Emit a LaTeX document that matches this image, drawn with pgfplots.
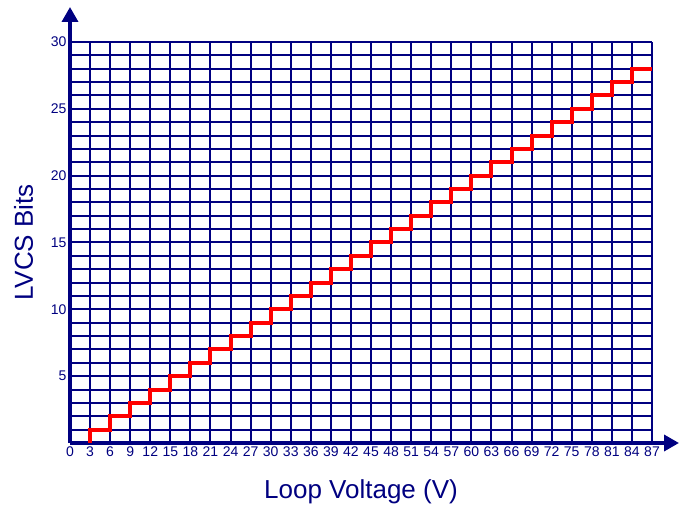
\documentclass[border=0pt]{standalone}
\usepackage{pgfplots}
\pgfplotsset{compat=1.18}
\usetikzlibrary{arrows.meta}
\usepackage{fontspec}
\setmainfont{Liberation Sans}
\definecolor{navy}{RGB}{0,0,128}
\definecolor{lred}{RGB}{255,0,0}
\begin{document}
\begin{tikzpicture}
\useasboundingbox (-70pt,-62pt) rectangle (609pt,443pt);
\begin{axis}[
  scale only axis, width=582pt, height=401pt,
  xmin=0, xmax=87, ymin=0, ymax=30,
  axis lines=left,
  x axis line style={navy, line width=3.5pt, -{Triangle[width=16pt,length=15pt]}, shorten >=-27pt},
  y axis line style={navy, line width=3.5pt, -{Triangle[width=16pt,length=15pt]}, shorten >=-35pt},
  xtick={0,3,...,87},
  ytick={1,2,...,30},
  yticklabels={,,,,5,,,,,10,,,,,15,,,,,20,,,,,25,,,,,30},
  major tick length=0pt,
  xmajorgrids, ymajorgrids,
  major grid style={navy, line width=2pt},
  /pgf/number format/assume math mode=true,
  tick label style={font=\fontsize{14}{14}\selectfont, text=navy},
  xlabel={Loop Voltage (V)},
  ylabel={LVCS Bits},
  xlabel style={font=\fontsize{26}{26}\selectfont, text=navy, at={(axis description cs:0.5,0)}, anchor=base, yshift=-55pt},
  ylabel style={font=\fontsize{26}{26}\selectfont, text=navy, at={(axis description cs:0,0.5)}, anchor=base, yshift=37pt},
]
\addplot[const plot, lred, line width=4pt] coordinates {
(3,0) (3,1) (6,2) (9,3) (12,4) (15,5) (18,6) (21,7) (24,8) (27,9) (30,10)
(33,11) (36,12) (39,13) (42,14) (45,15) (48,16) (51,17) (54,18) (57,19) (60,20)
(63,21) (66,22) (69,23) (72,24) (75,25) (78,26) (81,27) (84,28) (87,28)
};
\end{axis}
\end{tikzpicture}
\end{document}
